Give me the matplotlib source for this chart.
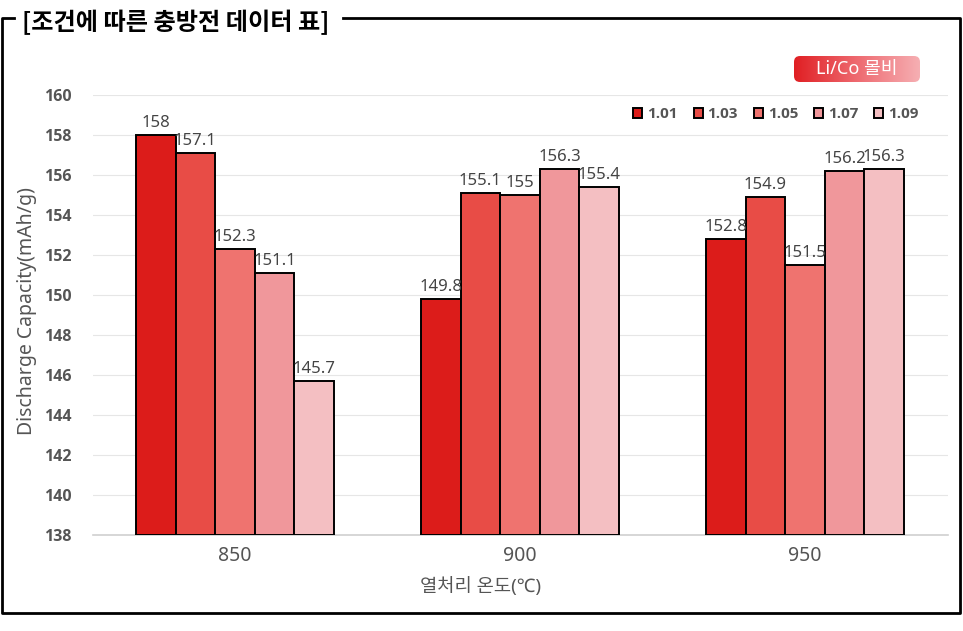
import numpy as np
import matplotlib
matplotlib.use('Agg')
from matplotlib import pyplot as plt
from matplotlib.patches import FancyBboxPatch
from matplotlib.lines import Line2D
from matplotlib.colors import LinearSegmentedColormap

plt.rcParams['font.family'] = ['Noto Sans', 'Noto Sans CJK KR', 'DejaVu Sans']
BOLD = ['Open Sans', 'DejaVu Sans']

temps = ['850', '900', '950']
ratios = ['1.01', '1.03', '1.05', '1.07', '1.09']
cap_101 = [158, 149.8, 152.8]
cap_103 = [157.1, 155.1, 154.9]
cap_105 = [152.3, 155, 151.5]
cap_107 = [151.1, 156.3, 156.2]
cap_109 = [145.7, 155.4, 156.3]
series = [cap_101, cap_103, cap_105, cap_107, cap_109]
colors = ['#DC1C1A', '#E84C46', '#EF736F', '#F0979B', '#F4BFC2']

W, H = 963, 631
fig = plt.figure(figsize=(W / 100, H / 100), dpi=100)

ax = fig.add_axes([92.5 / W, 96 / H, 855 / W, 440 / H])
x = np.arange(len(temps))
bw = 0.139
for i, (vals, c) in enumerate(zip(series, colors)):
    pos = x + (i - 2) * bw
    ax.bar(pos, np.array(vals) - 138, bw, bottom=138, color=c,
           edgecolor='black', linewidth=1.4, label=ratios[i], zorder=3)
    for p, v in zip(pos, vals):
        ax.text(p, v + 0.2, f'{v:g}', ha='center', va='bottom',
                fontsize=12, color='#444444', zorder=4)

ax.set_xlim(-0.5, 2.5)
ax.set_ylim(138, 160)
ax.set_yticks(np.arange(138, 161, 2))
ax.grid(axis='y', color='#e6e6e6', linewidth=0.8, zorder=0)
for s in ['top', 'right', 'left']:
    ax.spines[s].set_visible(False)
ax.spines['bottom'].set_color('#d0d0d0')
ax.spines['bottom'].set_linewidth(1.2)
ax.tick_params(axis='both', length=0)
ax.tick_params(axis='y', labelsize=11.5, labelcolor='#555555', pad=15)
for t in ax.get_yticklabels():
    t.set_fontweight('bold')
    t.set_family(BOLD)
ax.set_xticks(x)
ax.set_xticklabels(temps, fontsize=14, color='#555555')
ax.tick_params(axis='x', pad=8)
ax.set_xlabel('열처리 온도(℃)', fontsize=13.5, color='#555555')
ax.xaxis.set_label_coords((481 - 92.5) / 855, -0.095)
ax.set_ylabel('Discharge Capacity(mAh/g)', fontsize=14, color='#555555')
ax.yaxis.set_label_coords(-(92.5 - 37) / 855, 0.51)

leg = ax.legend(loc='upper right', bbox_to_anchor=(0.982, 1.003), ncol=5, frameon=False,
                handlelength=0.6, handleheight=0.6, handletextpad=0.3, columnspacing=1.05,
                prop={'size': 11, 'weight': 'bold', 'family': BOLD})
for t in leg.get_texts():
    t.set_color('#555555')

# badge with gradient
bw_px, bh_px = 128, 28
bx = fig.add_axes([793 / W, (H - 83) / H, bw_px / W, bh_px / H])
bx.set_axis_off()
bx.set_xlim(0, bw_px)
bx.set_ylim(0, bh_px)
grad = np.linspace(0, 1, 256).reshape(1, -1)
cmap = LinearSegmentedColormap.from_list('badge', ['#E01E22', '#EE6A70', '#F6B0B4'])
im = bx.imshow(grad, extent=[0, bw_px, 0, bh_px], aspect='auto', cmap=cmap)
box = FancyBboxPatch((1, 1), bw_px - 2, bh_px - 2, boxstyle='round,pad=0,rounding_size=6',
                     facecolor='none', edgecolor='none')
bx.add_patch(box)
im.set_clip_path(box)
bx.text(bw_px / 2, bh_px / 2, 'Li/Co 몰비', ha='center', va='center', color='white',
        fontsize=13)

# frame and title
def fline(xs, ys):
    fig.add_artist(Line2D([v / W for v in xs], [1 - v / H for v in ys],
                          color='black', linewidth=2, transform=fig.transFigure))

fline([14, 2, 2, 960, 960, 343], [18, 18, 613, 613, 18, 18])
fig.text(22 / W, 1 - 22 / H, '[조건에 따른 충방전 데이터 표]', fontsize=17.4,
         fontweight='bold', color='black', ha='left', va='center',
         family=['Noto Sans CJK KR', 'DejaVu Sans'])

fig.savefig('out.png', dpi=100, facecolor='white')
